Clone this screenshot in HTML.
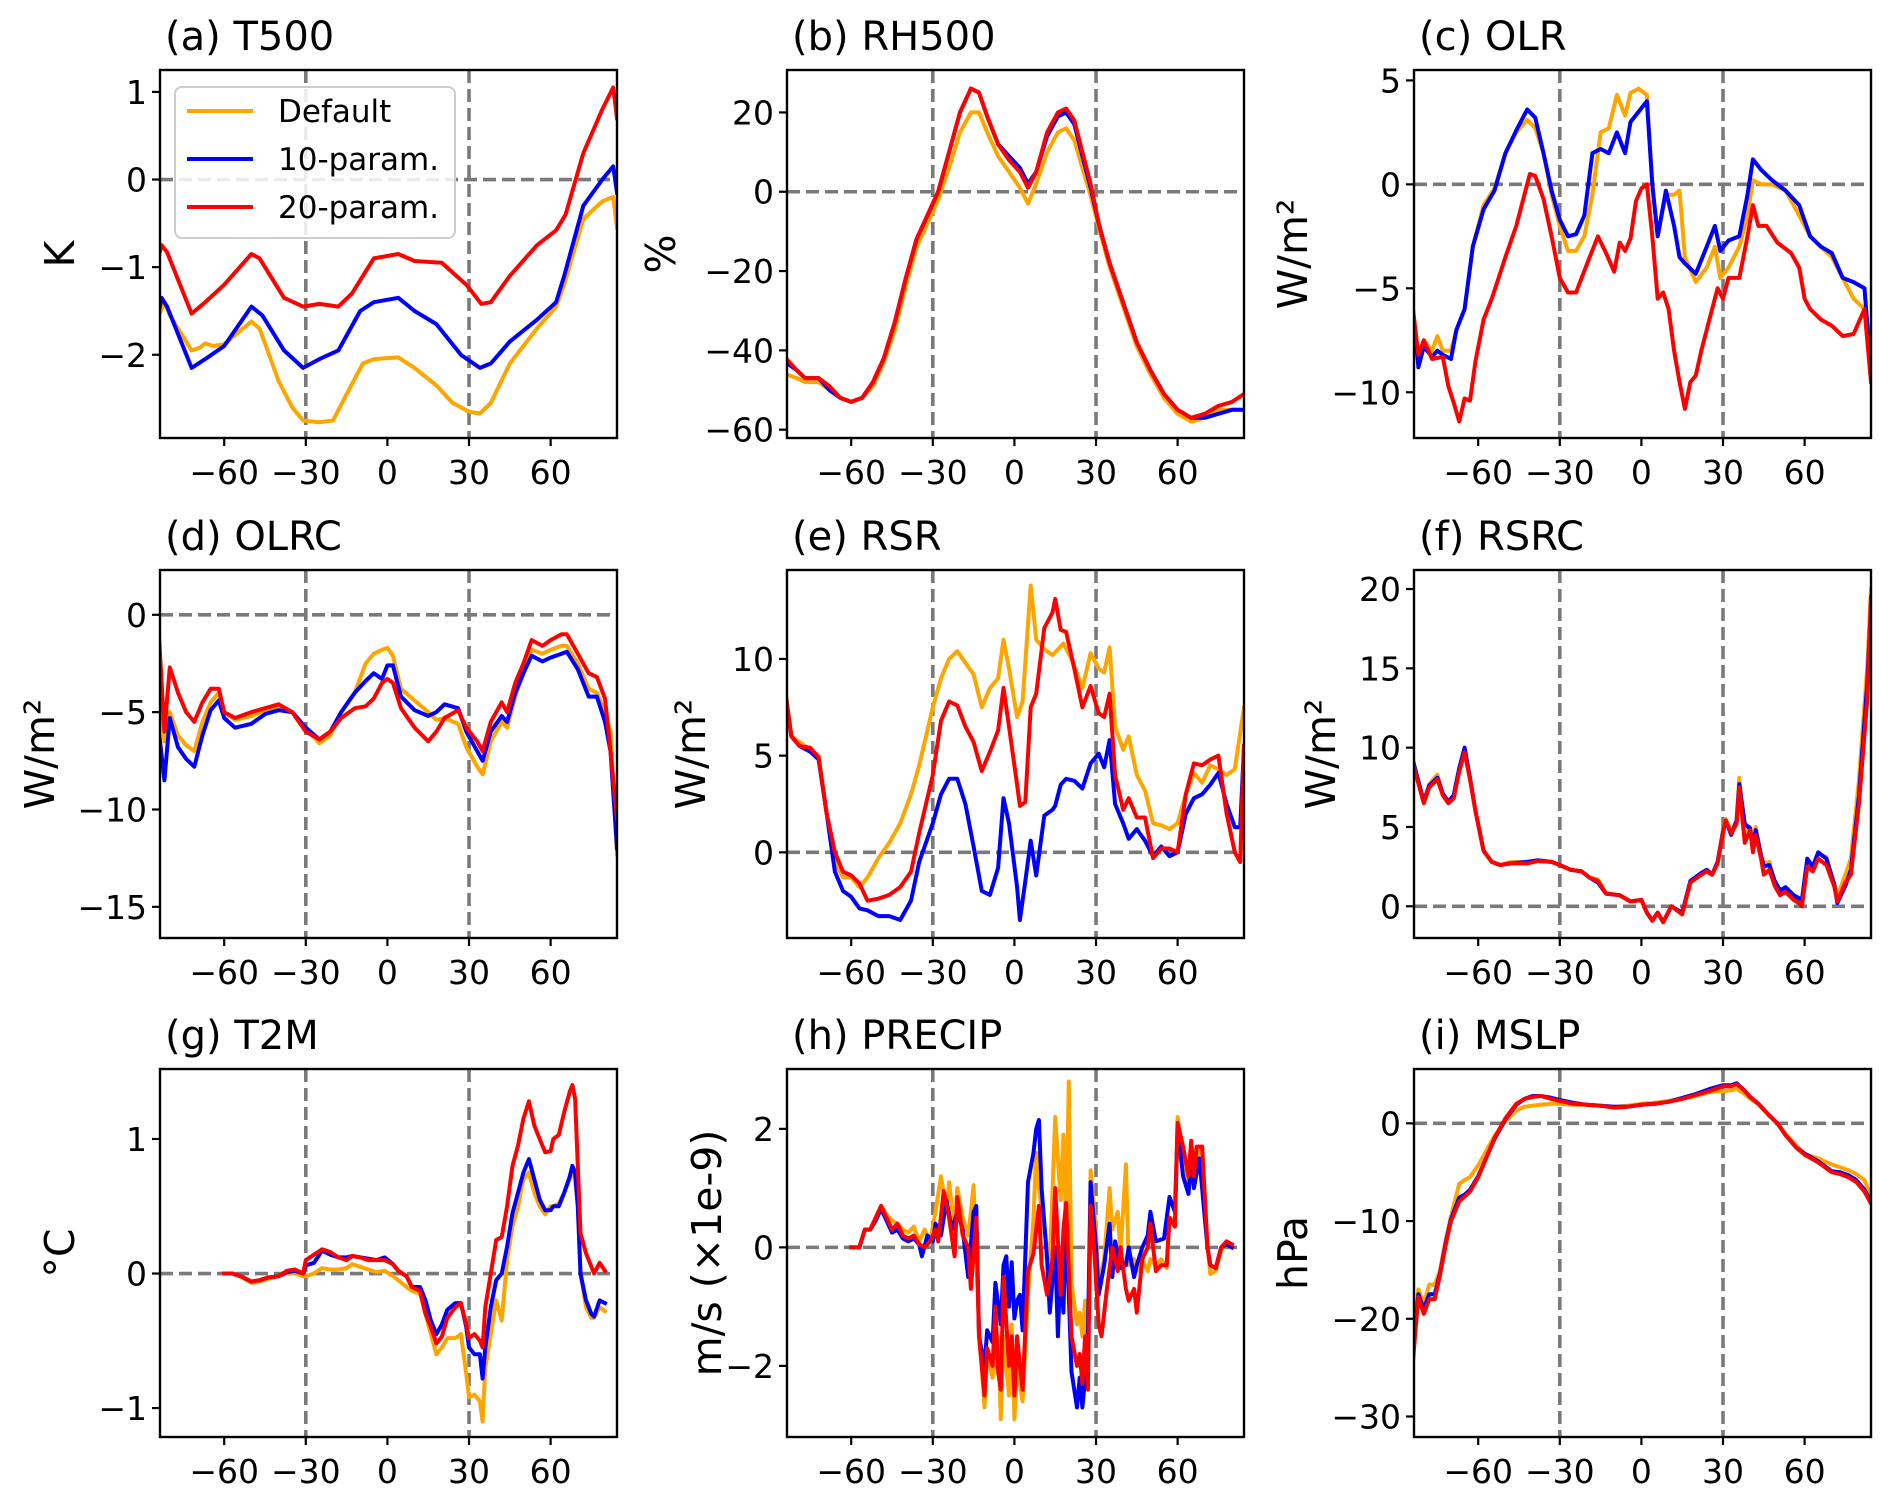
<!DOCTYPE html>
<html><head><meta charset="utf-8"><title>Zonal mean differences</title>
<style>
html,body{margin:0;padding:0;background:#fff;}
svg{display:block;font-family:"DejaVu Sans","Liberation Sans",sans-serif;}
</style></head>
<body>
<svg id="fig" width="1892" height="1504" viewBox="0 0 1892 1504" xmlns="http://www.w3.org/2000/svg"></svg>
<script>
// ---------- data ----------
const xTicks=[-60,-30,0,30,60];
const xTickLabels=["−60","−30","0","30","60"];
const seriesNames=["Default","10-param.","20-param."];

const latAD=[-84,-82,-80,-72,-69,-67,-64,-60,-50,-47,-40,-35,-31,-25,-20,-15,-9,-5,4,10,18,24,30,34,38,45,55,62,65,72,79,83,84.4];
const valAD=[-1.55,-1.4,-1.55,-1.95,-1.92,-1.87,-1.9,-1.88,-1.62,-1.7,-2.3,-2.6,-2.75,-2.77,-2.75,-2.45,-2.1,-2.05,-2.03,-2.15,-2.35,-2.55,-2.65,-2.67,-2.55,-2.1,-1.7,-1.45,-1.2,-0.45,-0.25,-0.2,-0.55];
const latA10=[-84,-83,-81,-72,-67,-60,-50,-46,-38,-31,-25,-18,-10,-5,4,10,18,27,34,38,45,55,62,65,72,79,83,84.4];
const valA10=[-1.5,-1.35,-1.45,-2.15,-2.05,-1.9,-1.45,-1.55,-1.95,-2.15,-2.05,-1.95,-1.5,-1.4,-1.35,-1.5,-1.65,-2.0,-2.15,-2.1,-1.85,-1.6,-1.4,-1.1,-0.3,0.0,0.15,-0.15];
const latA20=[-84,-83,-81,-72,-67,-60,-50,-47,-38,-31,-25,-18,-13,-5,4,10,20,29,34.5,38,45,55,62,65.5,72,79,83,84.4];
const valA20=[-0.87,-0.75,-0.83,-1.53,-1.4,-1.2,-0.85,-0.9,-1.35,-1.45,-1.42,-1.45,-1.3,-0.9,-0.85,-0.93,-0.95,-1.2,-1.42,-1.4,-1.1,-0.75,-0.58,-0.4,0.3,0.8,1.05,0.7];

const latB=[-84,-80,-77,-72,-68,-64,-60,-56,-52,-48,-44,-40,-36,-32,-28,-24,-20,-16,-13,-10,-6,-2,2,5,8,12,16,19,22,25,28,31,35,40,45,50,55,60,65,70,75,80,84.4];
const valBD=[-46,-47,-48,-48,-50,-52,-53,-52,-49,-43,-35,-24,-14,-8,-2,6,15,20,20,15,9,5,1,-3,2,10,15,16,13,6,-1,-9,-19,-29,-39,-46,-52,-56,-58,-57,-55,-55,-55];
const valB10=[-43,-45,-47,-47,-50,-52,-53,-52,-48,-42,-33,-22,-12,-6,0,10,20,26,25,19,12,9,6,2,5,14,19,20,17,9,1,-8,-18,-28,-38,-45,-51,-55,-57,-57,-56,-55,-55];
const valB20=[-42,-45,-47,-47,-49,-52,-53,-52,-48,-42,-33,-22,-12,-6,0,10,20,26,25,19,12,8,5,1,5,15,20,21,18,10,2,-8,-18,-28,-38,-45,-51,-55,-57,-56,-54,-53,-51];

const latC=[-84,-82,-80,-77,-75,-73,-70,-68,-65,-62,-58,-54,-50,-46,-42,-39,-36,-33,-30,-27,-24,-21,-18,-15,-12,-9,-6,-4,-1,2,4,6,9,12,14,16,20,24,27,29,32,36,39,41,44,48,53,58,62,66,70,74,78,82,84.4];
const valCD=[-6,-8.5,-7.5,-8,-7.3,-8,-8,-7,-6,-3,-1,-0.2,1.5,2.5,3.1,2.7,1.5,-0.5,-2,-3.2,-3.2,-2.5,-0.5,2.5,2.7,4.3,3.3,4.4,4.6,4.3,0,-2.5,-0.5,-0.5,-0.3,-3.5,-4.7,-4,-3,-4.5,-4,-3,-1.5,0.2,0,0,-0.3,-1.5,-2.5,-3,-3.5,-4.5,-5.5,-6,-9.5];
const valC10=[-6,-8.8,-7.8,-8.3,-8,-8.2,-8.4,-7,-6,-3,-1.2,-0.3,1.5,2.6,3.6,3.2,1.5,-0.3,-1.7,-2.5,-2.4,-1.5,1.5,1.7,1.5,2.5,1.5,3,3.5,4,0,-2.5,-0.3,-2,-3.5,-3.8,-4.3,-3,-2,-3.2,-2.7,-2.5,-0.5,1.2,0.7,0.2,-0.3,-1,-2.5,-3,-3.3,-4.5,-4.7,-5,-9];
const latC20=[-84,-82,-80,-77,-73,-71,-69,-67,-65,-63,-61,-58,-55,-50,-46,-43,-41,-39,-36,-33,-30,-27,-24,-22,-19,-16,-13,-10,-8,-6,-4,-2,0,2,4,6,8,10,12,14,16,18,20,22,25,28,30,32,36,39,41,43,46,50,55,58,60,62,66,70,74,78,82,84.4];
const valC20=[-6,-8.2,-7.5,-8.4,-8.3,-9.7,-10.5,-11.4,-10.3,-10.4,-8.5,-6.5,-5.5,-3.5,-2,-0.5,0.5,0.4,-0.7,-2.5,-4.5,-5.2,-5.2,-4.5,-3.5,-2.5,-3.3,-4.2,-2.8,-3.2,-2.6,-0.8,-0.2,0,-2.5,-5.5,-5.2,-6,-8,-9.5,-10.8,-9.5,-9.2,-8,-6.5,-5,-5.5,-4.5,-4.5,-2.5,-1,-2,-2,-2.8,-3.3,-4,-5.5,-6,-6.5,-6.8,-7.3,-7.2,-6,-9.5];

const latD=[-84,-82,-80,-77,-74,-71,-68,-65,-62,-60,-56,-50,-45,-40,-35,-30,-25,-21,-17,-12,-8,-5,-2,0,2,5,10,15,18,21,26,29,33,35,38,42,44,47,50,53,57,60,64,66,70,74,77,80,82,84.4];
const valDD=[-3.5,-6.5,-5,-6.2,-6.7,-7,-5.5,-4.5,-4,-5,-5.4,-5.2,-4.9,-4.8,-5,-5.8,-6.6,-6.2,-5,-4,-2.5,-2,-1.8,-1.7,-2.1,-3.8,-4.4,-5,-5.4,-5.3,-5.6,-6.8,-7.8,-8.2,-6.5,-5.5,-5.8,-4.2,-3,-1.8,-2,-1.8,-1.6,-1.6,-2.5,-3.8,-4,-5,-6,-12.3];
const valD10=[-6,-8.5,-5.3,-6.8,-7.4,-7.8,-6.2,-4.9,-4.4,-5.3,-5.8,-5.6,-5.1,-4.9,-5,-5.8,-6.4,-6,-5,-4,-3.4,-3,-3.3,-2.6,-2.6,-4.2,-4.9,-5.2,-5,-4.6,-4.8,-6,-7,-7.5,-6,-5.2,-5.5,-4,-3,-2.1,-2.4,-2.2,-2,-1.9,-2.8,-4.2,-4.2,-5.5,-7,-12];
const valD20=[-1,-6,-2.7,-4,-5,-5.5,-4.5,-3.8,-3.8,-5,-5.3,-5,-4.8,-4.6,-5,-6,-6.4,-6,-5.3,-4.8,-4.7,-4.3,-3.5,-3.3,-3.5,-4.8,-5.8,-6.5,-6,-5.3,-4.9,-5.8,-6.5,-7,-5.5,-4.5,-5,-3.5,-2.5,-1.3,-1.6,-1.3,-1,-1,-2,-3,-3.2,-4.3,-7,-10.5];

const latED=[-84,-82,-79,-75,-72,-69,-66,-63,-60,-57,-54,-50,-46,-42,-38,-35,-30,-27,-24,-21,-18,-15,-12,-9,-6,-4,-2,1,3,6,8,11,14,18,21,25,28,31,33,35,37,40,42,45,48,51,54,57,60,63,66,69,72,75,78,81,84.4];
const valED=[8.2,6,5.7,5.3,5,2,-0.5,-1.3,-1.3,-1.8,-1.3,-0.3,0.5,1.5,3,4.5,7.5,9,10,10.4,9.8,9.2,7.5,8.5,9,11,9.5,7,7.8,13.8,11,10.5,10.2,10.8,10,8.5,10.3,9.5,9.3,10.6,6.5,5.3,6,4,3.2,1.5,1.4,1.2,1.5,3,4.1,3.6,4.5,4.3,4.0,4.3,7.5];
const latE=[-84,-82,-79,-75,-72,-69,-66,-63,-60,-57,-54,-50,-46,-42,-38,-35,-30,-27,-24,-21,-18,-15,-12,-9,-6,-4,-2,1,2,4,6,8,11,14,15,17,19,22,25,28,31,33,35,37,40,42,45,48,51,54,57,60,63,66,69,72,75,78,81,83,84.4];
const valE10=[8,6,5.5,5.2,4.8,2,-1,-2,-2.3,-2.9,-3,-3.3,-3.3,-3.5,-2.5,-0.5,1.5,3,3.8,3.8,2.5,0.3,-2,-2.2,-0.8,2.8,1.5,-1.8,-3.5,-1.5,0.6,-1.2,1.9,2.2,2.4,3.5,3.8,3.7,3.3,4.6,5.1,4.4,5.8,2.5,1.5,0.7,1.2,0.6,-0.2,0.3,-0.2,0,2,2.8,3.0,3.5,4.1,2.5,1.3,1.3,5.5];
const valE20=[8,6,5.5,5.4,4.9,2,0,-1,-1.2,-1.6,-2.5,-2.4,-2.2,-1.8,-1,1,4,6.8,7.8,7.6,6.5,5.7,4.2,5.2,6.3,8.5,6.5,3.5,2.4,2.6,7.5,8.2,11.6,12.4,13.1,11.5,11.4,9.5,7.5,8.6,7.2,7,8.2,4,2.2,2.8,1.8,1.8,-0.3,0.2,0.2,0,3,4.6,4.5,4.8,5.0,2,0,-0.5,5.5];

const latF=[-84,-80,-78,-75,-73,-71,-69,-67,-65,-63,-61,-58,-55,-52,-48,-42,-38,-33,-30,-26,-22,-19,-16,-13,-8,-4,0,2,4,6,8,11,15,18,22,24,26,28,30,31,33,35,36,38,40,41,42,44,45,47,49,51,53,56,58,59,61,63,65,68,71,72,75,77,80,83,84.4];
const valFD=[9.1,6.6,7.7,8.3,7.1,6.6,6.9,8.6,9.9,8.1,6,3.5,2.8,2.6,2.8,2.8,2.9,2.8,2.6,2.3,2.2,1.8,1.7,0.8,0.7,0.3,0.4,-0.4,-0.9,-0.4,-1.0,0,-0.5,1.5,2,2.2,2,2.7,4.8,5.5,4.7,5.4,8.1,4.5,5.0,3.8,5.0,3.2,2.7,2.8,1.5,0.9,1.0,0.6,0.4,0.3,2.8,2.5,3.3,3.1,1.4,0.6,2.0,3.0,8,15,20];
const valF10=[9.2,6.6,7.6,8.1,7.1,6.6,7,8.7,10,8.1,6,3.5,2.8,2.6,2.7,2.8,2.9,2.8,2.6,2.3,2.2,1.8,1.5,0.8,0.7,0.3,0.4,-0.4,-0.9,-0.4,-1.0,0,-0.4,1.6,2.1,2.3,2.0,2.8,4.7,5.4,4.5,5.4,7.7,5.2,4.9,3.6,4.8,3.2,2.5,2.6,1.6,1.0,1.2,0.7,0.5,0.4,3.0,2.5,3.4,3.0,1.3,0.2,1.3,2.3,7,14,19];
const valF20=[9,6.5,7.5,8,7,6.5,6.8,8.5,9.7,8,6,3.5,2.8,2.6,2.7,2.7,2.85,2.8,2.6,2.3,2.2,1.8,1.6,0.8,0.7,0.3,0.4,-0.4,-0.9,-0.4,-1.0,0,-0.5,1.5,2,2.2,2,2.7,4.6,5.4,4.6,5.2,7.5,4,4.8,3.4,4.5,3,2,2.3,1.3,0.7,0.9,0.4,0.2,0,2.5,2.2,3,2.6,1.2,0.3,1.5,2,6.5,13,19.5];

const latG=[-60,-57,-54,-50,-47,-44,-40,-37,-34,-31,-30,-27,-24,-21,-18,-15,-13,-10,-7,-4,-1,2,4,7,9,12,14,16,18,20,22,25,27,29,30,32,34,35,36,38,40,42,44,46,48,50,52,54,56,58,60,61,63,65,67,68,69,70,71,73,75,76,78,80];
const valGD=[0,0,-0.02,-0.07,-0.06,-0.04,-0.02,0.0,0.0,-0.02,-0.02,0.0,0.04,0.03,0.03,0.04,0.07,0.05,0.03,0.01,0.02,-0.02,-0.05,-0.1,-0.13,-0.15,-0.3,-0.45,-0.6,-0.55,-0.48,-0.48,-0.45,-0.75,-0.92,-0.9,-0.95,-1.1,-0.7,-0.45,-0.2,-0.35,0.1,0.35,0.5,0.7,0.75,0.6,0.5,0.44,0.5,0.5,0.52,0.6,0.7,0.77,0.7,0.5,0,-0.25,-0.33,-0.33,-0.25,-0.28];
const valG10=[0,0,-0.02,-0.06,-0.05,-0.03,-0.02,0.01,0.02,0.0,0.06,0.08,0.17,0.14,0.12,0.12,0.13,0.12,0.11,0.1,0.12,0.07,0.02,-0.02,-0.1,-0.1,-0.2,-0.35,-0.45,-0.38,-0.27,-0.22,-0.22,-0.4,-0.55,-0.6,-0.6,-0.78,-0.55,-0.25,-0.05,0.0,0.2,0.45,0.6,0.75,0.85,0.7,0.55,0.47,0.47,0.5,0.5,0.6,0.72,0.8,0.75,0.5,0,-0.2,-0.3,-0.32,-0.2,-0.22];
const valG20=[0,0,-0.02,-0.06,-0.05,-0.03,-0.02,0.02,0.03,0.0,0.1,0.14,0.18,0.16,0.12,0.1,0.13,0.12,0.1,0.1,0.1,0.07,0.02,-0.02,-0.1,-0.13,-0.3,-0.4,-0.52,-0.47,-0.33,-0.25,-0.22,-0.38,-0.48,-0.45,-0.5,-0.55,-0.25,0,0.25,0.27,0.5,0.8,0.95,1.15,1.28,1.1,1.0,0.9,0.91,1.0,1.03,1.2,1.35,1.4,1.3,0.8,0.3,0.15,0.05,0,0.08,0.02];

const latHD=[-60,-57,-55,-53,-51,-49,-47,-45,-43,-41,-39,-37,-35,-33,-31,-29,-27,-25,-24,-22,-21,-19,-17,-16,-15,-13,-11,-10,-8,-6,-5,-4,-2,-1,0,1,3,5,7,8,9,11,13,15,17,18,19,20,21,23,24,25,26,27,28,30,31,33,35,36,38,39,41,42,44,45,47,49,50,52,54,56,57,59,60,62,64,65,67,69,71,72,74,76,78,80];
const valHD=[0,0,0.3,0.3,0.5,0.7,0.55,0.45,0.4,0.3,0.25,0.35,0.1,0.3,0.1,0.6,1.2,0.6,1.1,0.3,1.0,0.5,0.2,0.6,1.05,-1.4,-2.7,-1.8,-2.2,-1.5,-2.9,-1.5,-2.5,-1.3,-2.9,-2.0,-2.6,-0.8,0.5,1.6,1.0,0.3,-0.3,2.2,0.8,1.9,0.3,2.8,-0.6,-1.3,-1.1,-1.5,-0.9,-2.0,1.3,0.3,-0.6,-0.2,1.0,0.3,0.6,-0.1,1.4,-0.3,-0.2,-0.4,-0.2,-0.4,-0.2,-0.3,-0.2,-0.35,0.5,0.45,2.2,1.5,1.1,1.7,1.5,1.7,0,-0.45,-0.4,-0.05,0.1,0.0];
const latH10=[-60,-57,-55,-53,-51,-49,-47,-45,-43,-41,-39,-37,-35,-34,-32,-30,-29,-27,-25,-23,-21,-19,-17,-15,-14,-13,-11,-10,-8,-7,-5,-4,-3,-2,-1,0,1,2,3,5,7,8,9,10,12,13,15,16,17,18,19,21,23,24,25,26,27,28,30,31,33,35,36,37,39,41,42,44,45,47,49,50,52,55,57,59,60,62,64,65,66,68,71,72,74,76,78,80];
const valH10=[0,0,0.3,0.3,0.45,0.65,0.45,0.25,0.3,0.15,0.1,0.15,0.05,-0.15,0.2,0.1,0.4,0.2,0.8,0.3,0.6,0.3,-0.5,0.6,0.7,-1.5,-2.0,-1.4,-1.6,-0.6,-1.3,-0.3,-0.15,-1.0,-0.25,-1.2,-0.9,-0.8,-1.4,1.1,1.6,2.0,2.15,1.0,-0.2,-1.1,0.0,-1.5,-0.2,-1.1,0.5,-2.1,-2.7,-2.2,-2.7,-2.2,-1.5,1.1,0.0,-0.8,-0.3,0.4,-0.5,0.1,-0.35,-0.3,0.0,-0.5,-0.3,0.0,0.2,0.6,0.1,0.15,0.85,0.6,2.0,1.2,0.9,1.5,1.0,1.5,0,-0.3,-0.35,0,0.05,0.0];
const latH20=[-60,-57,-55,-53,-51,-49,-47,-45,-43,-41,-39,-37,-35,-33,-31,-29,-28,-26,-24,-22,-21,-19,-17,-16,-14,-13,-11,-10,-8,-7,-6,-5,-4,-2,-1,0,1,2,3,5,7,9,10,12,14,15,17,18,19,21,23,24,25,26,27,28,29,31,32,34,36,38,39,41,42,44,45,47,49,50,52,54,56,57,59,60,62,64,65,66,67,69,71,72,74,76,78,80];
const valH20=[0,0,0.3,0.3,0.5,0.7,0.5,0.3,0.4,0.2,0.15,0.2,0.05,0.0,0.1,0.3,0.1,0.95,0.5,-0.15,0.85,0.2,0.0,-0.7,0.5,-1.5,-2.5,-1.7,-2,-1.0,-2.1,-2.4,-0.5,-2,-1.5,-2.5,-1.5,-2.0,-2.4,-0.4,-0.1,0.7,-0.3,-0.8,-0.2,1.0,-0.8,0.3,0.75,-1.5,-2.0,-1.8,-2.3,-1.5,-2.4,0.7,0.2,-1.3,-1.5,-0.7,0.0,-0.4,0.0,-0.7,-0.9,-0.7,-1.1,-0.2,0,0.4,-0.4,-0.3,-0.3,0.5,0.35,2.1,1.7,1.2,1.8,1.2,1.7,1.7,0,-0.3,-0.35,0.0,0.1,0.05];

const latI=[-84,-83,-82,-80,-78,-76,-74,-72,-70,-67,-65,-63,-60,-57,-54,-50,-46,-43,-40,-37,-33,-30,-25,-20,-15,-10,-5,0,5,10,15,20,25,30,33,35,37,40,43,47,50,53,57,60,65,70,73,76,79,82,84.4];
const valID=[-23,-19.5,-17,-18.5,-16.5,-16.5,-15,-12,-9.5,-6.2,-5.8,-5.5,-4.3,-2.8,-1.3,0.2,1.3,1.7,1.8,1.9,2.0,2.0,1.9,1.9,1.8,1.7,1.8,2.0,2.1,2.3,2.5,2.8,3.2,3.3,3.4,3.5,3.2,2.5,2.0,0.8,0,-1.1,-2.3,-3.1,-3.6,-4.2,-4.5,-4.8,-5.2,-5.8,-7.5];
const valI10=[-24,-20.5,-17.5,-19,-17.5,-17.5,-15.3,-12.3,-9.8,-7.6,-7.3,-6.8,-5.4,-3.5,-1.6,0.4,1.9,2.5,2.8,2.8,2.6,2.4,2.1,1.9,1.8,1.7,1.7,1.9,2.0,2.2,2.6,3.0,3.5,3.9,3.9,4.1,3.6,2.7,2.0,0.8,0,-1.2,-2.5,-3.1,-3.9,-4.9,-5.0,-5.3,-5.8,-6.8,-8];
const valI20=[-24.5,-21,-17.8,-19.5,-18,-18,-15.5,-12.5,-10,-8,-7.5,-7,-5.5,-3.5,-1.5,0.5,2,2.5,2.7,2.8,2.5,2.3,2.0,1.9,1.8,1.6,1.7,1.9,2.0,2.2,2.5,2.9,3.3,3.8,3.8,4.0,3.6,2.7,2.0,0.8,0,-1.2,-2.5,-3.2,-4,-5,-5.2,-5.5,-6,-7,-8.2];

const panelTitles=["(a) T500","(b) RH500","(c) OLR","(d) OLRC","(e) RSR","(f) RSRC","(g) T2M","(h) PRECIP","(i) MSLP"];
const panelUnits=["K","%","W/m²","W/m²","W/m²","W/m²","°C","m/s (×1e-9)","hPa"];
const yTicksA=[1,0,-1,-2], yTicksB=[20,0,-20,-40,-60], yTicksC=[5,0,-5,-10];
const yTicksD=[0,-5,-10,-15], yTicksE=[10,5,0], yTicksF=[20,15,10,5,0];
const yTicksG=[1,0,-1], yTicksH=[2,0,-2], yTicksI=[0,-10,-20,-30];

// ---------- layout (not data) ----------
const colL=[160,787,1414], rowT=[70,570,1069], W=457, H=368;
const xlim=[-83.6,84.4];
const ylims=[[-2.95,1.25],[-62.1,30.7],[-12.2,5.5],[-16.6,2.3],[-4.43,14.6],[-2.0,21.2],[-1.215,1.52],[-3.2,3.01],[-32.1,5.56]];
const ylabOff=[100,126,121,120,96,93,100,80,121];
const colors=["#ffa500","#0000ff","#ff0000"];

const panels=[
 {yt:yTicksA,s:[[latAD,valAD],[latA10,valA10],[latA20,valA20]]},
 {yt:yTicksB,s:[[latB,valBD],[latB,valB10],[latB,valB20]]},
 {yt:yTicksC,s:[[latC,valCD],[latC,valC10],[latC20,valC20]]},
 {yt:yTicksD,s:[[latD,valDD],[latD,valD10],[latD,valD20]]},
 {yt:yTicksE,s:[[latED,valED],[latE,valE10],[latE,valE20]]},
 {yt:yTicksF,s:[[latF,valFD],[latF,valF10],[latF,valF20]]},
 {yt:yTicksG,s:[[latG,valGD],[latG,valG10],[latG,valG20]]},
 {yt:yTicksH,s:[[latHD,valHD],[latH10,valH10],[latH20,valH20]]},
 {yt:yTicksI,s:[[latI,valID],[latI,valI10],[latI,valI20]]}
];

const NS="http://www.w3.org/2000/svg";
const svg=document.getElementById('fig');
function mk(tag,attrs,parent){const e=document.createElementNS(NS,tag);for(const k in attrs)e.setAttribute(k,attrs[k]);(parent||svg).appendChild(e);return e;}
function fmt(v){return v<0?"−"+Math.abs(v):String(v);}
const defs=mk('defs',{});

panels.forEach((p,i)=>{
  const L=colL[i%3], T=rowT[Math.floor(i/3)];
  const yl=ylims[i];
  const X=v=>L+(v-xlim[0])/(xlim[1]-xlim[0])*W;
  const Y=v=>T+H-(v-yl[0])/(yl[1]-yl[0])*H;
  const g=mk('g',{});
  
  
  const cp=mk('clipPath',{id:'cp'+i},defs);
  mk('rect',{x:L,y:T,width:W,height:H},cp);

  const gr=mk('g',{'clip-path':'url(#cp'+i+')'},g);
  [-30,30].forEach(v=>{
    const l=mk('line',{x1:X(v),x2:X(v),y1:T,y2:T+H,stroke:'#7a7a7a','stroke-width':3.6,'stroke-dasharray':'13,6'},gr);
    
    
  });
  const z=mk('line',{x1:L,x2:L+W,y1:Y(0),y2:Y(0),stroke:'#7a7a7a','stroke-width':3.6,'stroke-dasharray':'13,6'},gr);
  
  

  p.s.forEach((s,k)=>{
    const lat=s[0], val=s[1];
    let d='';
    for(let j=0;j<Math.min(lat.length,val.length);j++){d+=(j?'L':'M')+X(lat[j]).toFixed(1)+','+Y(val[j]).toFixed(1);}
    const path=mk('path',{d:d,fill:'none',stroke:colors[k],'stroke-width':4,'stroke-linejoin':'round','stroke-linecap':'square'},gr);
    
    
  });

  const fr=mk('rect',{x:L,y:T,width:W,height:H,fill:'none',stroke:'#000','stroke-width':2.4},g);
  
  

  xTicks.forEach((v,j)=>{
    mk('line',{x1:X(v),x2:X(v),y1:T+H,y2:T+H+8,stroke:'#000','stroke-width':2.2},g);
    const t=mk('text',{x:X(v),y:T+H+46,'text-anchor':'middle','font-size':33},g);
    t.textContent=xTickLabels[j];
    
    
  });
  p.yt.forEach(v=>{
    mk('line',{x1:L-8,x2:L,y1:Y(v),y2:Y(v),stroke:'#000','stroke-width':2.2},g);
    const t=mk('text',{x:L-13,y:Y(v)+12,'text-anchor':'end','font-size':33},g);
    t.textContent=fmt(v);
    
    
  });
  const tt=mk('text',{x:L+5,y:T-20,'font-size':40},g);
  tt.textContent=panelTitles[i];
  
  
  const cx=L-ylabOff[i], cy=T+H/2;
  const yl2=mk('text',{x:cx,y:cy,'text-anchor':'middle','font-size':41,transform:'rotate(-90 '+cx+' '+cy+')','dominant-baseline':'central'},g);
  yl2.textContent=panelUnits[i];
  
  
});

const lg=mk('g',{});


mk('rect',{x:175,y:87,width:280,height:151,rx:7,fill:'#fff','fill-opacity':0.85,stroke:'#cccccc','stroke-width':2},lg);
seriesNames.forEach((n,k)=>{
  const yy=111+k*48;
  const e=mk('g',{},lg);
  
  
  mk('line',{x1:187,x2:253,y1:yy,y2:yy,stroke:colors[k],'stroke-width':4},e);
  const t=mk('text',{x:278,y:yy+11,'font-size':31},e);
  t.textContent=n;
});
</script>
</body></html>
